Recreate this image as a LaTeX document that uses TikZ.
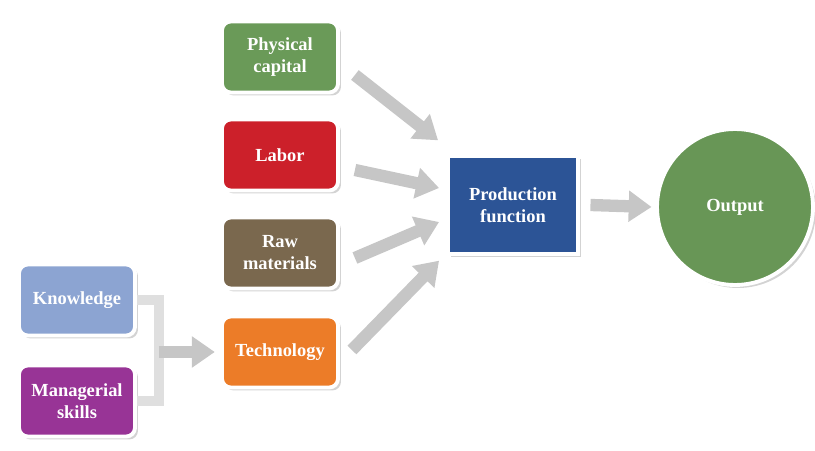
\documentclass[tikz,border=0pt]{standalone}
\usepackage{fontspec}
\setmainfont{Liberation Serif}
\usetikzlibrary{arrows.meta,shadows}

\definecolor{physgreen}{RGB}{106,154,88}
\definecolor{laborred}{RGB}{204,32,42}
\definecolor{rawbrown}{RGB}{122,104,78}
\definecolor{techorange}{RGB}{236,124,40}
\definecolor{knowblue}{RGB}{140,164,210}
\definecolor{managpurple}{RGB}{152,52,150}
\definecolor{prodblue}{RGB}{44,84,150}
\definecolor{outgreen}{RGB}{104,150,86}

\tikzset{
  factor/.style={rectangle, rounded corners=5pt, draw=white, line width=2.2pt,
    minimum width=2.32cm, minimum height=1.42cm, align=center,
    text=white, font=\fontsize{10.5}{12.5}\selectfont\bfseries,
    drop shadow={opacity=0.35, shadow xshift=0.6mm, shadow yshift=-0.6mm}},
  fatarrow/.style={draw=gray!45, line width=7pt,
    -{Triangle[length=13pt,width=17pt]}},
}

\begin{document}
\begin{tikzpicture}[x=0.02cm,y=0.02cm]
        \useasboundingbox (0,0) rectangle (815,450);

        % Inputs
        \node[factor, fill=physgreen] (phys) at (280,393) {Physical\\capital};
        \node[factor, fill=laborred] (labor) at (280,295) {Labor};
        \node[factor, fill=rawbrown] (raw) at (280,197) {Raw\\materials};
        \node[factor, fill=techorange] (tech) at (280,98) {Technology};

        \node[factor, fill=knowblue] (know) at (77,150) {Knowledge};
        \node[factor, fill=managpurple] (manag) at (77,49) {Managerial\\skills};

        \node[factor, fill=prodblue, rounded corners=0pt,
              minimum width=2.6cm, minimum height=1.95cm] (prod) at (513,245) {Production\\function};

        \node[factor, circle, fill=outgreen, minimum size=3.12cm] (out) at (735,243) {Output};

        % Klammer
        \draw[gray!25, line width=6pt] (know.east) -- ++(22,0) coordinate (kb)
              |- (manag.east);
        \draw[fatarrow] (kb |- tech.west) -- ([xshift=-3pt]tech.west);

        % Pfeile zur Produktionsfunktion
        \draw[fatarrow] ([shift={(15,-18)}]phys.east) -- ([shift={(-8,14)}]prod.north west);
        \draw[fatarrow] ([shift={(15,-15)}]labor.east) -- ([shift={(-7,17)}]prod.west);
        \draw[fatarrow] ([shift={(15,-5)}]raw.east) -- ([shift={(-7,-17)}]prod.west);
        \draw[fatarrow] ([shift={(12,2)}]tech.east) -- ([shift={(-7,-5)}]prod.south west);

        \draw[fatarrow] ([xshift=6pt]prod.east) -- ([xshift=-2pt]out.west);

    \end{tikzpicture}
\end{document}
